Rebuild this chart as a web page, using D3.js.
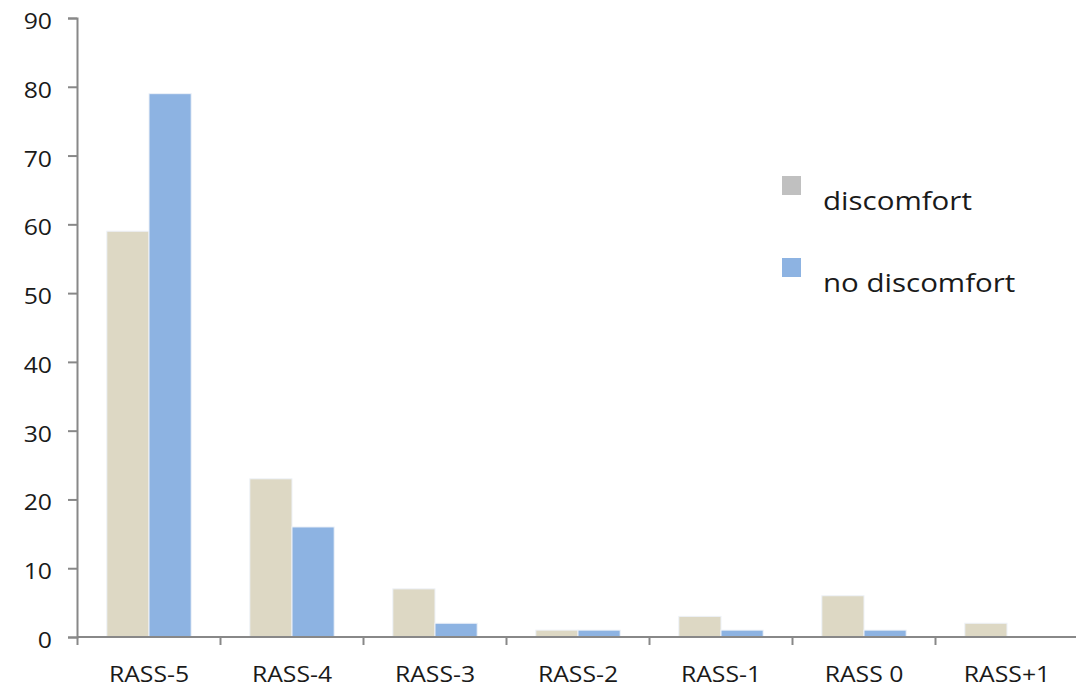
<!DOCTYPE html>
<html><head><meta charset="utf-8">
<script src="https://cdn.jsdelivr.net/npm/d3@7"></script>
<style>body{margin:0;background:#fff}svg{display:block}</style>
</head><body>
<script>
const categories = ["RASS-5","RASS-4","RASS-3","RASS-2","RASS-1","RASS 0","RASS+1"];
const seriesNames = ["discomfort","no discomfort"];
const discomfort = [59,23,7,1,3,6,2];
const noDiscomfort = [79,16,2,1,1,1,0];
const yTicks = [0,10,20,30,40,50,60,70,80,90];

const W=1076,H=687;
const svg=d3.select("body").append("svg").attr("width",W).attr("height",H);
const x0=d3.scaleBand().domain(categories).range([77.5,1078.5]).paddingInner(0.41).paddingOuter(0.205);
const x1=d3.scaleBand().domain(seriesNames).range([0,x0.bandwidth()]);
const y=d3.scaleLinear().domain([0,90]).range([637,18]);
const barColor={"discomfort":"#ddd8c4","no discomfort":"#8db3e2"};
const legendColor={"discomfort":"#c0c0c0","no discomfort":"#8db3e2"};
const SX=1.18;
const TXT="#1a1a1a";

const data=categories.map((c,i)=>({c,vals:[{k:"discomfort",v:discomfort[i]},{k:"no discomfort",v:noDiscomfort[i]}]}));
const g=svg.append("g");
g.selectAll("g.grp").data(data).join("g").attr("class","grp")
 .attr("transform",d=>`translate(${x0(d.c)},0)`)
 .selectAll("rect").data(d=>d.vals).join("rect")
 .attr("x",d=>x1(d.k)).attr("width",x1.bandwidth())
 .attr("y",d=>y(d.v)).attr("height",d=>y(0)-y(d.v))
 .attr("fill",d=>barColor[d.k]).attr("stroke","#eef2f8").attr("stroke-width",1);

// y axis
const ya=svg.append("g").attr("transform","translate(77,0)")
 .call(d3.axisLeft(y).tickValues(yTicks).tickSize(9).tickPadding(0));
ya.select(".domain").attr("stroke","#888").attr("stroke-width",2);
ya.selectAll(".tick line").attr("stroke","#888").attr("stroke-width",2);
ya.selectAll(".tick text").attr("font-family","Open Sans").attr("font-weight",500).attr("font-size",21).attr("fill",TXT)
 .attr("x",-25/SX).attr("dy","0.5em").attr("transform",`scale(${SX},1)`);

// x axis
const xa=svg.append("g").attr("transform",`translate(0,${y(0)})`)
 .call(d3.axisBottom(x0).tickSize(0).tickPadding(0));
xa.select(".domain").attr("stroke","#888").attr("stroke-width",2).attr("d","M77,0H1080");
xa.selectAll(".tick text").attr("font-family","Open Sans").attr("font-weight",500).attr("font-size",21).attr("fill",TXT)
 .attr("y",0).attr("dy",45).attr("transform",`scale(${SX},1)`).attr("x",0);
// category boundary ticks
const bounds=categories.map(c=>x0(c)-x0.step()*x0.paddingInner()/2);
xa.selectAll("line.b").data(bounds).join("line").attr("class","b")
 .attr("x1",d=>d).attr("x2",d=>d).attr("y1",0).attr("y2",8).attr("stroke","#888").attr("stroke-width",2);

// legend
const lg=svg.append("g");
const ly=[176,258];
seriesNames.forEach((s,i)=>{
  lg.append("rect").attr("x",782).attr("y",ly[i]).attr("width",19).attr("height",19).attr("fill",legendColor[s]);
  lg.append("text").attr("transform",`translate(823,${ly[i]+34}) scale(${SX},1)`)
   .attr("font-family","Open Sans").attr("font-weight",500).attr("font-size",25).attr("fill",TXT).text(s);
});
</script>
</body></html>
